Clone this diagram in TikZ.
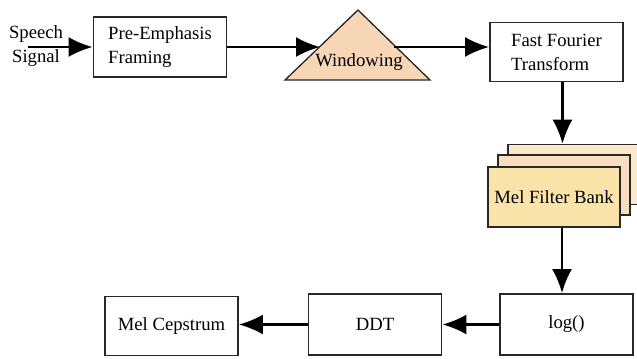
\documentclass[tikz,border=0pt]{standalone}
\usepackage{fontspec}
\setmainfont{Liberation Serif}
\definecolor{peach}{RGB}{247,214,181}
\definecolor{paleyellow}{RGB}{250,227,168}
\definecolor{palepeach}{RGB}{248,221,192}
\definecolor{lightpeach}{RGB}{251,233,202}
\definecolor{edgegray}{RGB}{40,40,40}
\usetikzlibrary{arrows.meta,positioning,calc}

\begin{document}
\begin{tikzpicture}[x=0.75pt,y=-0.75pt,font=\fontsize{14}{18}\selectfont]
  \tikzstyle{block}=[rectangle,draw=edgegray,line width=1.2pt,fill=white,minimum width=100pt,minimum height=45pt,align=left,inner sep=2pt]
  \tikzstyle{bank}=[block,minimum width=99pt]
  \tikzstyle{flow}=[-{Latex[length=18pt,width=15pt]},line width=1.6pt,draw=black]

  \useasboundingbox (0,0) rectangle (637,358);

  \node[align=center] (speech) at (36,46) {Speech\\Signal};
  \coordinate (src) at (28,47);
  \node[block] (pre) at (160,47) {Pre-Emphasis\\Framing};

  \filldraw[fill=peach,draw=edgegray,line width=1pt] (285,80) -- (358,10) -- (430,80) -- cycle;
  \coordinate (winL) at (320,47);
  \coordinate (winR) at (394,47);
  \node (win) at (359,62) {Windowing};

  \node[block,minimum height=44pt] (fft) at (556.5,52) {Fast Fourier\\Transform};

  \node[bank,fill=lightpeach] (melc) at (574,174.5) {};
  \node[bank,fill=palepeach] (melb) at (564,185) {};
  \node[bank,fill=paleyellow] (mel) at (554,197) {Mel Filter Bank};

  \node[block,minimum height=46pt] (log) at (566.5,324.5) {log()};
  \node[block,minimum height=46pt] (ddt) at (375,324.5) {DDT};
  \node[block,minimum height=44pt] (ceps) at (171.5,326) {Mel Cepstrum};

  \draw[flow] (src) -- (pre.west);
  \draw[flow] (pre.east) -- (winL);
  \draw[flow] (winR) -- (winR -| fft.west);
  \draw[flow] ([xshift=4.5pt]fft.south) -- ([xshift=4.5pt]fft.south |- melc.north);
  \draw[flow] ([xshift=6pt]mel.south) -- ([xshift=6pt]mel.south |- log.north);
  \draw[flow] (log.west) -- (ddt.east);
  \draw[flow] (ddt.west) -- (ddt.west -| ceps.east);
\end{tikzpicture}
\end{document}
